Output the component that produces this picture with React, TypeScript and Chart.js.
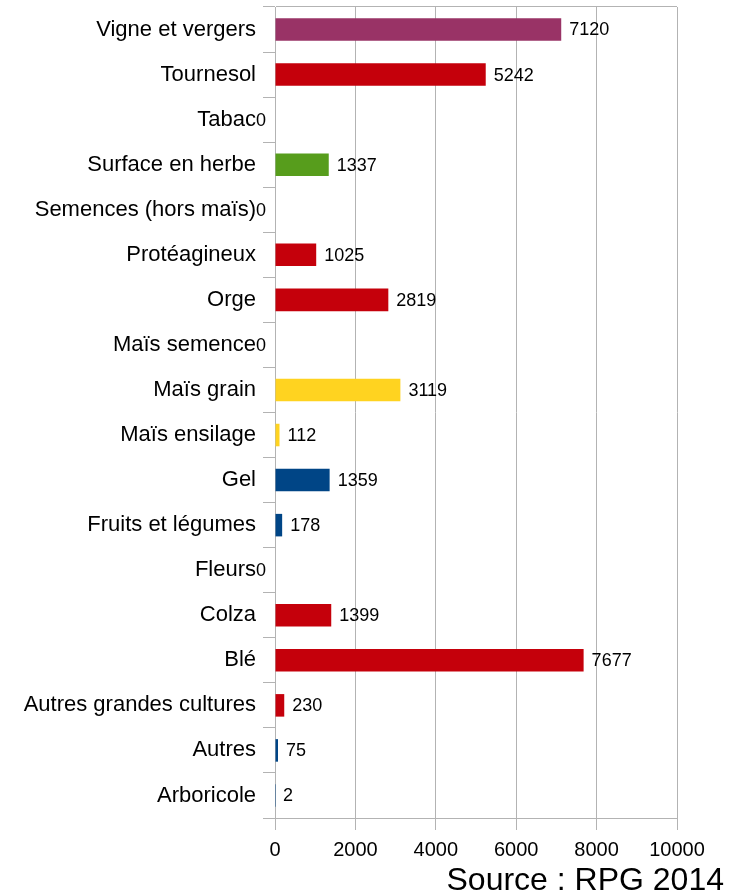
import React, { useEffect, useRef } from "react";
import { Chart, registerables } from "chart.js";

Chart.register(...registerables);

const categories = [
  "Vigne et vergers",
  "Tournesol",
  "Tabac",
  "Surface en herbe",
  "Semences (hors maïs)",
  "Protéagineux",
  "Orge",
  "Maïs semence",
  "Maïs grain",
  "Maïs ensilage",
  "Gel",
  "Fruits et légumes",
  "Fleurs",
  "Colza",
  "Blé",
  "Autres grandes cultures",
  "Autres",
  "Arboricole",
];

const values = [7120, 5242, 0, 1337, 0, 1025, 2819, 0, 3119, 112, 1359, 178, 0, 1399, 7677, 230, 75, 2];

const PURPLE = "#993366";
const RED = "#c5000b";
const GREEN = "#579d1c";
const YELLOW = "#ffd320";
const BLUE = "#004586";

const barColors = [
  PURPLE, RED, RED, GREEN, RED, RED, RED, YELLOW, YELLOW, YELLOW,
  BLUE, BLUE, BLUE, RED, RED, RED, BLUE, BLUE,
];

const xMin = 0;
const xMax = 10000;
const xStep = 2000;
const sourceText = "Source : RPG 2014";

const GRID = "#b3b3b3";
const FONT = "'Liberation Sans', Arial, sans-serif";

const valueLabels = {
  id: "valueLabels",
  afterDatasetsDraw(chart: any) {
    const ctx = chart.ctx;
    const meta = chart.getDatasetMeta(0);
    ctx.save();
    ctx.font = `18px ${FONT}`;
    ctx.fillStyle = "#000";
    ctx.textBaseline = "middle";
    meta.data.forEach((bar: any, i: number) => {
      const v = values[i];
      if (v === 0) {
        ctx.textAlign = "right";
        ctx.fillText(String(v), bar.x - 9, bar.y + 1);
      } else {
        ctx.textAlign = "left";
        ctx.fillText(String(v), bar.x + 8, bar.y + 1);
      }
    });
    ctx.restore();
  },
};

const sourcePlugin = {
  id: "sourceText",
  afterDraw(chart: any) {
    const ctx = chart.ctx;
    ctx.save();
    ctx.font = `32px ${FONT}`;
    ctx.fillStyle = "#000";
    ctx.textAlign = "right";
    ctx.textBaseline = "alphabetic";
    ctx.fillText(sourceText, 724, 890);
    ctx.restore();
  },
};

export default function App() {
  const ref = useRef<HTMLCanvasElement | null>(null);

  useEffect(() => {
    document.body.style.margin = "0";
    if (!ref.current) return;
    const chart = new Chart(ref.current, {
      type: "bar",
      data: {
        labels: categories,
        datasets: [
          {
            data: values,
            backgroundColor: barColors,
            borderWidth: 0,
            categoryPercentage: 1,
            barPercentage: 0.5,
          },
        ],
      },
      options: {
        indexAxis: "y",
        animation: false,
        responsive: false,
        maintainAspectRatio: false,
        layout: { padding: { left: 0, right: 56, top: 7, bottom: 0 } },
        plugins: {
          legend: { display: false },
          tooltip: { enabled: false },
        },
        scales: {
          x: {
            min: xMin,
            max: xMax,
            ticks: {
              stepSize: xStep,
              color: "#000",
              font: { family: FONT, size: 20 },
              padding: 8,
              maxRotation: 0,
              callback: (v: any) => String(v),
            },
            grid: {
              color: GRID,
              tickColor: GRID,
              tickLength: 12,
              lineWidth: 1,
            },
            border: { display: true, color: GRID },
            afterFit: (s: any) => {
              s.height = 77;
              s.paddingLeft = 0;
              s.paddingRight = 0;
            },
          },
          y: {
            ticks: {
              color: "#000",
              font: { family: FONT, size: 22 },
              padding: 7,
            },
            grid: {
              offset: true,
              color: (c: any) => (c.index === 0 ? GRID : "rgba(0,0,0,0)"),
              tickColor: GRID,
              tickLength: 12,
            },
            border: { display: true, color: GRID },
            afterFit: (s: any) => {
              s.width = 275;
              s.paddingTop = 0;
              s.paddingBottom = 0;
            },
          },
        },
      },
      plugins: [valueLabels, sourcePlugin],
    });
    return () => chart.destroy();
  }, []);

  return <canvas ref={ref} width={733} height={895} style={{ display: "block" }} />;
}
